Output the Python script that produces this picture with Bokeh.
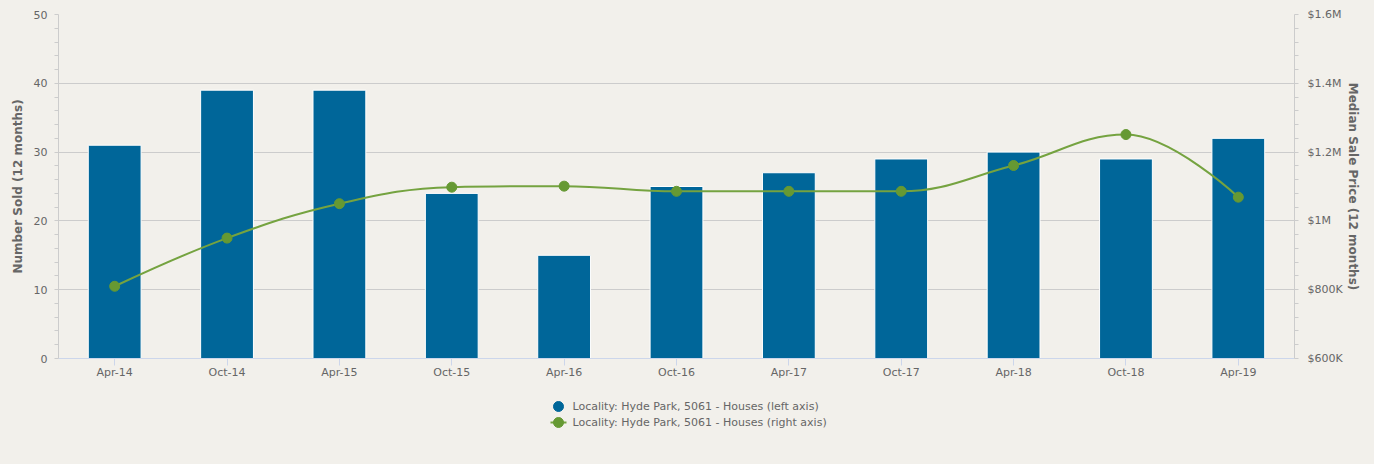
from bokeh.plotting import figure
from bokeh.layouts import column
from bokeh.models import Range1d, LinearAxis, FixedTicker, ColumnDataSource
from bokeh.core.properties import value
from bokeh.embed import file_html
from bokeh.resources import INLINE

periods = ["Apr-14", "Oct-14", "Apr-15", "Oct-15", "Apr-16", "Oct-16",
           "Apr-17", "Oct-17", "Apr-18", "Oct-18", "Apr-19"]
number_sold = [31, 39, 39, 24, 15, 25, 27, 29, 30, 29, 32]
median_price = [810000, 950000, 1050000, 1098000, 1101000, 1086000,
                1086000, 1086000, 1161000, 1251000, 1069000]
left_ticks = [0, 10, 20, 30, 40, 50]
right_ticks = [600000, 800000, 1000000, 1200000, 1400000, 1600000]
right_labels = ["$600K", "$800K", "$1M", "$1.2M", "$1.4M", "$1.6M"]
bar_label = "Locality: Hyde Park, 5061 - Houses (left axis)"
line_label = "Locality: Hyde Park, 5061 - Houses (right axis)"

BG = "#f2f0eb"
BAR = "#006699"
LINE = "#75a340"
MARK = "#669933"
TXT = "#666666"
FONT = "DejaVu Sans"

n = len(periods)
xs = list(range(n))

p = figure(frame_width=1236, frame_height=344, output_backend="svg",
           toolbar_location=None,
           x_range=Range1d(-0.5, n - 0.5), y_range=Range1d(0, 50),
           min_border_left=58, min_border_right=74, min_border_top=14,
           min_border_bottom=30)
p.background_fill_color = BG
p.border_fill_color = BG
p.outline_line_color = None
p.extra_y_ranges = {"price": Range1d(600000, 1600000)}

# bars
src = ColumnDataSource(dict(x=xs, y=number_sold))
p.vbar(x="x", top="y", width=0.47, source=src, fill_color=BAR,
       line_color="white", line_width=1)

# spline (Highcharts-style smoothing) for the price line
smoothing, denom = 1.5, 2.5
left = [None] * n
right = [None] * n
for i in range(1, n - 1):
    lx, ly = xs[i - 1], median_price[i - 1]
    px, py = xs[i], median_price[i]
    nx, ny = xs[i + 1], median_price[i + 1]
    lcx = (smoothing * px + lx) / denom
    lcy = (smoothing * py + ly) / denom
    rcx = (smoothing * px + nx) / denom
    rcy = (smoothing * py + ny) / denom
    if rcx != lcx:
        corr = ((rcy - lcy) * (rcx - px)) / (rcx - lcx) + py - rcy
        lcy += corr
        rcy += corr
    if lcy > ly and lcy > py:
        lcy = max(ly, py); rcy = 2 * py - lcy
    elif lcy < ly and lcy < py:
        lcy = min(ly, py); rcy = 2 * py - lcy
    if rcy > ny and rcy > py:
        rcy = max(ny, py); lcy = 2 * py - rcy
    elif rcy < ny and rcy < py:
        rcy = min(ny, py); lcy = 2 * py - rcy
    left[i] = (lcx, lcy)
    right[i] = (rcx, rcy)

seg = dict(x0=[], y0=[], x1=[], y1=[], cx0=[], cy0=[], cx1=[], cy1=[])
for i in range(1, n):
    a = right[i - 1] or (xs[i - 1], median_price[i - 1])
    b = left[i] or (xs[i], median_price[i])
    seg["x0"].append(xs[i - 1]); seg["y0"].append(median_price[i - 1])
    seg["x1"].append(xs[i]); seg["y1"].append(median_price[i])
    seg["cx0"].append(a[0]); seg["cy0"].append(a[1])
    seg["cx1"].append(b[0]); seg["cy1"].append(b[1])
p.bezier(x0="x0", y0="y0", x1="x1", y1="y1", cx0="cx0", cy0="cy0",
         cx1="cx1", cy1="cy1", source=ColumnDataSource(seg),
         line_color=LINE, line_width=2, y_range_name="price")
p.scatter(xs, median_price, size=10, fill_color=MARK, line_color=MARK,
          y_range_name="price")

# axes
p.xaxis.ticker = FixedTicker(ticks=xs)
p.xaxis.major_label_overrides = {i: s for i, s in enumerate(periods)}
p.xaxis.axis_line_color = "#ccd6eb"
p.xaxis.major_tick_line_color = "#ccd6eb"
p.xaxis.major_tick_out = 7
p.xaxis.major_tick_in = 0
p.xaxis.minor_tick_line_color = None
p.xaxis.major_label_text_color = TXT
p.xaxis.major_label_text_font = FONT
p.xaxis.major_label_text_font_size = "11px"
p.xaxis.major_label_standoff = 0

ya = p.yaxis[0]
ya.ticker = FixedTicker(ticks=left_ticks, minor_ticks=list(range(0, 51, 2)))
ya.axis_line_color = "#cccccc"
ya.major_tick_line_color = None
ya.major_tick_out = 0
ya.major_tick_in = 0
ya.minor_tick_line_color = "#cccccc"
ya.minor_tick_out = 4
ya.minor_tick_in = 0
ya.major_label_text_color = TXT
ya.major_label_text_font = FONT
ya.major_label_text_font_size = "11px"
ya.major_label_standoff = 7
ya.axis_label = "Number Sold (12 months)"
ya.axis_label_text_font = FONT
ya.axis_label_text_font_style = "bold"
ya.axis_label_text_font_size = "12px"
ya.axis_label_text_color = TXT
ya.axis_label_standoff = 6

ra = LinearAxis(y_range_name="price",
                ticker=FixedTicker(ticks=right_ticks,
                                   minor_ticks=list(range(600000, 1600001, 40000))))
ra.major_label_overrides = dict(zip(right_ticks, right_labels))
ra.axis_line_color = "#cccccc"
ra.major_tick_line_color = None
ra.major_tick_out = 0
ra.major_tick_in = 0
ra.minor_tick_line_color = "#cccccc"
ra.minor_tick_out = 4
ra.minor_tick_in = 0
ra.major_label_text_color = TXT
ra.major_label_text_font = FONT
ra.major_label_text_font_size = "11px"
ra.major_label_standoff = 9
ra.axis_label = "Median Sale Price (12 months)"
ra.axis_label_text_font = FONT
ra.axis_label_text_font_style = "bold"
ra.axis_label_text_font_size = "12px"
ra.axis_label_text_color = TXT
ra.axis_label_standoff = 0
p.add_layout(ra, "right")

p.xgrid.grid_line_color = None
p.ygrid.grid_line_color = "#cccccc"
p.ygrid.ticker = FixedTicker(ticks=left_ticks)

# legend strip below the chart; its ranges map 1:1 to page pixels
lf = figure(frame_width=1236, frame_height=70, output_backend="svg",
            toolbar_location=None,
            x_range=Range1d(58, 1294), y_range=Range1d(458, 388),
            min_border_left=58, min_border_right=74, min_border_top=0,
            min_border_bottom=0)
lf.background_fill_color = BG
lf.border_fill_color = BG
lf.outline_line_color = None
lf.axis.visible = False
lf.grid.visible = False

lf.scatter([558], [406], size=10, fill_color=BAR, line_color=BAR)
lf.segment(x0=[550], y0=[422], x1=[566], y1=[422], line_color=LINE, line_width=2)
lf.scatter([558], [422], size=10, fill_color=MARK, line_color=MARK)
lf.text(x=[572, 572], y=[406, 422], text=[bar_label, line_label],
        text_baseline="middle", text_align="left",
        text_font=value(FONT), text_font_size="11px", text_color=TXT)

layout = column(p, lf, spacing=0)
html = file_html(layout, INLINE)
html = html.replace("</head>",
                    "<style>html,body{background:%s;}</style></head>" % BG, 1)
open("out.html", "w").write(html)
